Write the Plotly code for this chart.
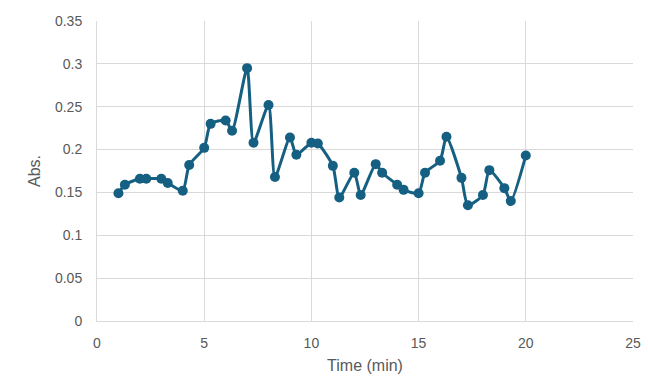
import plotly.graph_objects as go

time_min = [1, 1.3, 2, 2.3, 3, 3.3, 4, 4.3, 5, 5.3, 6, 6.3, 7, 7.3, 8, 8.3, 9, 9.3, 10, 10.3,
            11, 11.3, 12, 12.3, 13, 13.3, 14, 14.3, 15, 15.3, 16, 16.3, 17, 17.3, 18, 18.3, 19, 19.3, 20]
absorbance = [0.149, 0.159, 0.166, 0.166, 0.166, 0.161, 0.152, 0.182, 0.202, 0.230, 0.234, 0.222,
              0.295, 0.208, 0.252, 0.168, 0.214, 0.194, 0.208, 0.207, 0.181, 0.144, 0.173, 0.147,
              0.183, 0.173, 0.159, 0.153, 0.149, 0.173, 0.187, 0.215, 0.167, 0.135, 0.147, 0.176,
              0.155, 0.140, 0.193]

color = "#156082"
fig = go.Figure()
fig.add_trace(go.Scatter(
    x=time_min, y=absorbance, mode="lines+markers",
    line=dict(color=color, width=3, shape="spline", smoothing=0.6),
    marker=dict(color=color, size=10),
    showlegend=False,
))

font_family = "Liberation Sans, Arial, sans-serif"
fig.update_layout(
    width=648, height=386,
    margin=dict(l=97, r=15, t=21, b=65),
    paper_bgcolor="white", plot_bgcolor="white",
    font=dict(family=font_family, color="#595959", size=14),
    xaxis=dict(
        range=[0, 25], dtick=5, tick0=0, automargin=False,
        showgrid=True, gridcolor="#d9d9d9", gridwidth=1,
        showline=True, linecolor="#d9d9d9", linewidth=1,
        zeroline=False, ticks="", ticklabelstandoff=9,
        title=dict(text="Time (min)", font=dict(size=16, color="#595959"), standoff=10),
        tickfont=dict(size=14, color="#595959"),
    ),
    yaxis=dict(
        range=[0, 0.35], dtick=0.05, tick0=0, automargin=False,
        showgrid=True, gridcolor="#d9d9d9", gridwidth=1,
        showline=True, linecolor="#d9d9d9", linewidth=1,
        zeroline=False, ticks="", ticklabelstandoff=11,
        title=dict(text="Abs.", font=dict(size=16, color="#595959"), standoff=10),
        tickfont=dict(size=14, color="#595959"),
    ),
)

fig.write_html(
    "out.html",
    config={"displayModeBar": False},
    post_script="document.body.style.margin='0';document.body.style.overflow='hidden';",
)
